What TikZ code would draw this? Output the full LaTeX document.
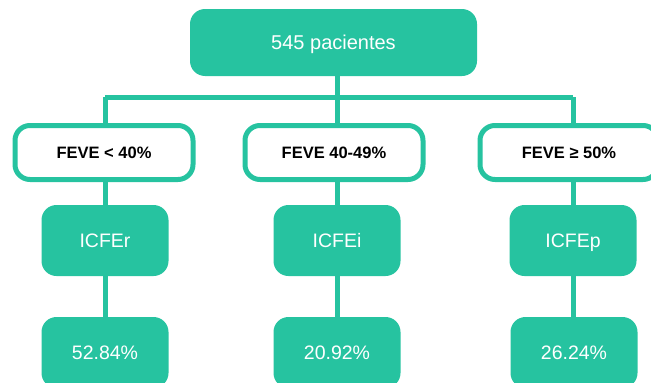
\documentclass[tikz,border=0pt]{standalone}
\usepackage{fontspec}
\setmainfont{Liberation Sans}
\definecolor{teal}{RGB}{38,195,160}

\begin{document}
\begin{tikzpicture}[x=1pt,y=-1pt,
	box/.style={fill=teal, text=white, rounded corners=15pt, minimum width=127pt, minimum height=71pt, text height=14pt, text depth=0pt, font=\fontsize{19.5}{22}\selectfont},
	feve/.style={draw=teal, line width=5pt, fill=white, rounded corners=15pt, minimum width=178pt, minimum height=54pt, text height=11.8pt, text depth=0pt, font=\fontsize{16.5}{19}\selectfont\bfseries},
	link/.style={draw=teal, line width=5pt}]
\useasboundingbox (0,0) rectangle (651,383);
\clip (0,0) rectangle (651,383);
\node[box, minimum width=287pt, minimum height=67pt, text height=14.3pt, font=\fontsize{20}{23}\selectfont] (top) at (333.5,42.5) {545 pacientes};
\coordinate (bar) at (0,97);
\node[feve] (feve1) at (104,152.5) {FEVE < 40\%};
\node[feve] (feve2) at (334,152.5) {FEVE 40-49\%};
\node[feve] (feve3) at (569,152.5) {FEVE ≥ 50\%};
\node[box] (icfe1) at (105,240.5) {ICFEr};
\node[box] (icfe2) at (337,240.5) {ICFEi};
\node[box] (icfe3) at (573,240.5) {ICFEp};
\node[box] (pct1) at (105,352.5) {52.84\%};
\node[box] (pct2) at (337,352.5) {20.92\%};
\node[box] (pct3) at (574,352.5) {26.24\%};
\draw[link] (top.south -| icfe2) -- (feve2.north -| icfe2);
\draw[link] (bar -| icfe1) -- (bar -| icfe3);
\foreach \i in {1,3}
	\draw[link] (bar -| icfe\i) -- (feve\i.north -| icfe\i);
\foreach \i in {1,2,3} {
	\draw[link] (feve\i.south -| icfe\i) -- (icfe\i.north);
	\draw[link] (icfe\i.south) -- (pct\i.north -| icfe\i);
}
\end{tikzpicture}
\end{document}
